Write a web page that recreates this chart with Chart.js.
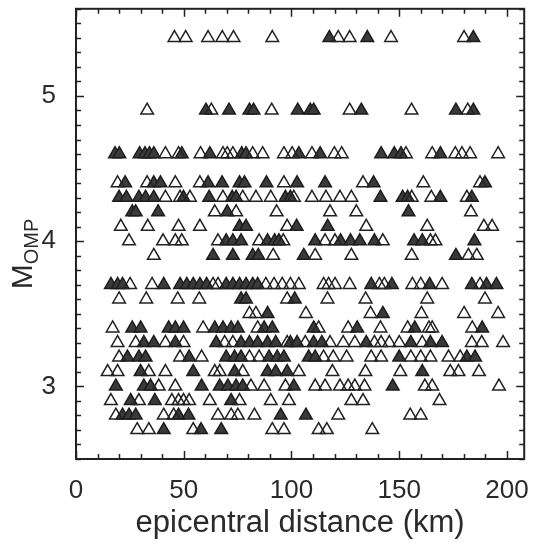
<!DOCTYPE html>
<html>
<head>
<meta charset="utf-8">
<script src="https://cdn.jsdelivr.net/npm/chart.js@4"></script>
<style>
  html, body { margin: 0; padding: 0; background: #fff; }
</style>
</head>
<body>
<canvas id="chart" width="533" height="544"></canvas>
<script>
// magnitude levels (rows) and the epicentral distances (km) recorded at each level
const magnitudes = [5.4, 4.9, 4.6, 4.4, 4.3, 4.2, 4.1, 4.0, 3.9, 3.7, 3.6, 3.5, 3.4, 3.3, 3.2, 3.1, 3.0, 2.9, 2.8, 2.7];

const openDist = [
  [45.7, 50.9, 61.3, 67.9, 73.1, 91.1, 121.7, 127, 146.2, 180.1],
  [33, 62.8, 90.8, 127, 155.7, 181.8],
  [41.5, 47.6, 57.8, 68.2, 70.2, 72.8, 82, 86.6, 96.5, 100.3, 109.5, 119.9, 123.3, 153.1, 165.3, 176, 179.1, 182.9, 195.9],
  [19.3, 33, 46.1, 57.5, 96.5, 133.2, 161.2, 187.5],
  [41.5, 48.3, 52.9, 68.2, 77.4, 83.5, 90.4, 101.1, 109.5, 116, 122.5, 127.8, 155.8, 164.9, 181.4],
  [64.4, 74.3, 93.1, 117.9, 130.1, 183.3],
  [20.8, 33.3, 47.6, 57.5, 98, 134.7, 163, 189.3, 193.1],
  [24.6, 40.4, 46.1, 49.1, 65.9, 85, 96.2, 115.6, 120.2, 142.4, 164.5, 166.8],
  [36.1, 91.5, 111, 127.8, 155.8, 182.1, 186],
  [25.1, 35.3, 63.6, 65.9, 88.1, 91.9, 95.7, 99.5, 103.4, 114.9, 117.2, 120.2, 127, 140.8, 143.1, 156.1, 160, 169.9, 187.5],
  [20, 32.6, 47.2, 57.2, 98, 116.7, 134.4, 163, 189.8],
  [80.5, 83.5, 106.7, 136.7, 160.3, 180.1, 195.9],
  [17, 59, 84.3, 112.6, 126.3, 141.3, 153.9, 163.8, 165.3, 183.9],
  [19.3, 27.7, 41.5, 49.9, 69, 72.8, 98, 106.4, 117.9, 124, 129.4, 138.5, 141.6, 145.4, 150, 160.7, 183.7, 188.3, 198.2],
  [20, 48.3, 58.3, 80.5, 85, 114.9, 119.4, 125.6, 137, 141.6, 155.4, 160, 164.5, 172.9, 178.3],
  [14.7, 19.3, 33.8, 41.5, 64.4, 66.7, 77.4, 103.4, 119, 134.3, 150.5, 173.7, 177.5, 187],
  [38.4, 46.1, 81.2, 87.3, 97.2, 111, 115.6, 122.5, 126.3, 129.4, 133.9, 161.9, 165.3, 196.3],
  [16.2, 29.2, 44.5, 47.6, 49.9, 52.5, 62.1, 75.9, 90.4, 98.8, 127.8, 133.2, 168.7],
  [18.5, 40.7, 45.3, 65.9, 72, 75.1, 82.8, 121.7, 155.1, 160],
  [28.4, 33.8, 54.4, 91.1, 96.5, 112.6, 116.4, 137.5]
];

const filledDist = [
  [117.6, 135.2, 184.4],
  [60.3, 71, 80.5, 82.4, 102.9, 108.7, 110.3, 132.4, 176.3, 184.4],
  [18.1, 20.1, 29.5, 32, 34.1, 36.1, 49.1, 62.1, 76.9, 78.9, 103.4, 113.3, 141.6, 147.7, 150.8, 169.1],
  [22.8, 36.1, 39.2, 61.3, 67.8, 75.9, 78.2, 88.4, 102.6, 115.6, 138.1, 189.8],
  [20, 23.4, 29.2, 32.3, 36.1, 49.9, 61.8, 72.5, 74.3, 97.2, 99.5, 141.3, 151.6, 153.9, 169.1, 183.7],
  [26.1, 27.7, 38.1, 70.2, 154.3],
  [75.9, 78.9, 102.4, 116.8],
  [69.7, 72.8, 76.6, 88.9, 92.2, 94.2, 111, 122.8, 127.4, 131.7, 138.5, 156.9, 160.7, 184.9],
  [63.6, 72.8, 82, 84.6, 105.7, 176.3],
  [16.2, 19.3, 21.6, 40.7, 48.3, 51.4, 54.4, 57.5, 60.6, 69.7, 72.8, 75.9, 78.9, 82, 84.3, 137, 146.6, 164.1, 183.7, 190.5, 195.1],
  [76.6, 78.9, 101.5],
  [88.9, 142.4],
  [26.1, 30, 43, 46.1, 49.9, 64.4, 68.2, 72, 75.1, 87.3, 91.1, 110.3, 130.5, 157.2, 188.5],
  [31.5, 36.1, 46.1, 65.1, 76.6, 80.5, 84.3, 88.9, 92.7, 99.5, 102.6, 110.3, 114.1, 134.7, 155.4, 164.5, 169.9],
  [23.9, 29.2, 32.3, 52.5, 69.7, 73.6, 76.6, 89.6, 93.4, 96.5, 108, 111, 150, 181.4, 185.2],
  [30, 54.4, 73.6, 88.9, 92.7, 98, 160.7],
  [18.5, 31.5, 34.6, 58.3, 66.7, 70.5, 74.3, 77.4, 101.1, 147],
  [25.4, 36.6, 72],
  [21.6, 24.6, 27.7, 47.6, 52.2, 95, 106.7],
  [40.7, 58, 67.4]
];

const xTicks = [0, 50, 100, 150, 200];
const yTicks = [3, 4, 5];

const INK = '#222';
const FONT = "'Liberation Sans', Arial, Helvetica, sans-serif";

function toPoints(rows) {
  return magnitudes.flatMap((m, i) => rows[i].map(d => ({ x: d, y: m })));
}

// box around the plot with inward major/minor ticks on all four sides, plus the y title
const framePlugin = {
  id: 'frame',
  afterDatasetsDraw(chart) {
    const { ctx, chartArea: a, scales: { x, y } } = chart;
    ctx.save();
    ctx.strokeStyle = INK;
    ctx.lineWidth = 1.5;
    ctx.beginPath();
    for (let v = 0; v <= x.max + 1e-6; v += 10) {
      const px = Math.round(x.getPixelForValue(v)) + 0.5;
      const len = v % 50 === 0 ? 8 : 5;
      ctx.moveTo(px, a.bottom); ctx.lineTo(px, a.bottom - len);
      ctx.moveTo(px, a.top); ctx.lineTo(px, a.top + len);
    }
    for (let k = Math.ceil(y.min * 10); k <= y.max * 10 + 1e-6; k++) {
      const py = Math.round(y.getPixelForValue(k / 10)) + 0.5;
      const len = k % 10 === 0 ? 8 : 5;
      ctx.moveTo(a.left, py); ctx.lineTo(a.left + len, py);
      ctx.moveTo(a.right, py); ctx.lineTo(a.right - len, py);
    }
    ctx.stroke();
    ctx.lineWidth = 2;
    ctx.strokeRect(a.left, a.top, a.right - a.left, a.bottom - a.top);

    // M with subscript OMP, rotated
    ctx.fillStyle = '#2a2a2a';
    ctx.translate(32, 254);
    ctx.rotate(-Math.PI / 2);
    ctx.textBaseline = 'alphabetic';
    ctx.textAlign = 'left';
    ctx.font = `30px ${FONT}`;
    const wM = ctx.measureText('M').width;
    ctx.font = `20px ${FONT}`;
    const wS = ctx.measureText('OMP').width;
    const start = -(wM + wS) / 2;
    ctx.font = `30px ${FONT}`;
    ctx.fillText('M', start, 0);
    ctx.font = `20px ${FONT}`;
    ctx.fillText('OMP', start + wM, 6);
    ctx.restore();
  }
};

new Chart(document.getElementById('chart'), {
  type: 'scatter',
  data: {
    datasets: [
      {
        data: toPoints(openDist),
        pointStyle: 'triangle',
        pointRadius: 7.3,
        borderWidth: 1.5,
        borderColor: INK,
        backgroundColor: 'rgba(0,0,0,0)'
      },
      {
        data: toPoints(filledDist),
        pointStyle: 'triangle',
        pointRadius: 7.3,
        borderWidth: 1.5,
        borderColor: '#1c1c1c',
        backgroundColor: '#3a3a3a'
      }
    ]
  },
  options: {
    responsive: false,
    animation: false,
    layout: { padding: { top: 8, right: 4, bottom: 0, left: 0 } },
    plugins: { legend: { display: false }, tooltip: { enabled: false } },
    scales: {
      x: {
        type: 'linear',
        min: 0,
        max: 208,
        afterBuildTicks: s => { s.ticks = xTicks.map(v => ({ value: v })); },
        afterFit: s => { s.height = 85; s.paddingLeft = 0; s.paddingRight = 0; },
        grid: { display: false },
        border: { display: false },
        ticks: { font: { size: 26, family: FONT }, color: '#2a2a2a', padding: 8, maxRotation: 0, autoSkip: false },
        title: {
          display: true,
          text: 'epicentral distance (km)',
          color: '#2a2a2a',
          font: { size: 31, family: FONT },
          padding: { top: 0, bottom: 2 }
        }
      },
      y: {
        type: 'linear',
        min: 2.5,
        max: 5.6,
        afterBuildTicks: s => { s.ticks = yTicks.map(v => ({ value: v })); },
        afterFit: s => { s.width = 76; s.paddingTop = 0; s.paddingBottom = 0; },
        grid: { display: false },
        border: { display: false },
        ticks: { font: { size: 26, family: FONT }, color: '#2a2a2a', padding: 12 }
      }
    }
  },
  plugins: [framePlugin]
});
</script>
</body>
</html>
